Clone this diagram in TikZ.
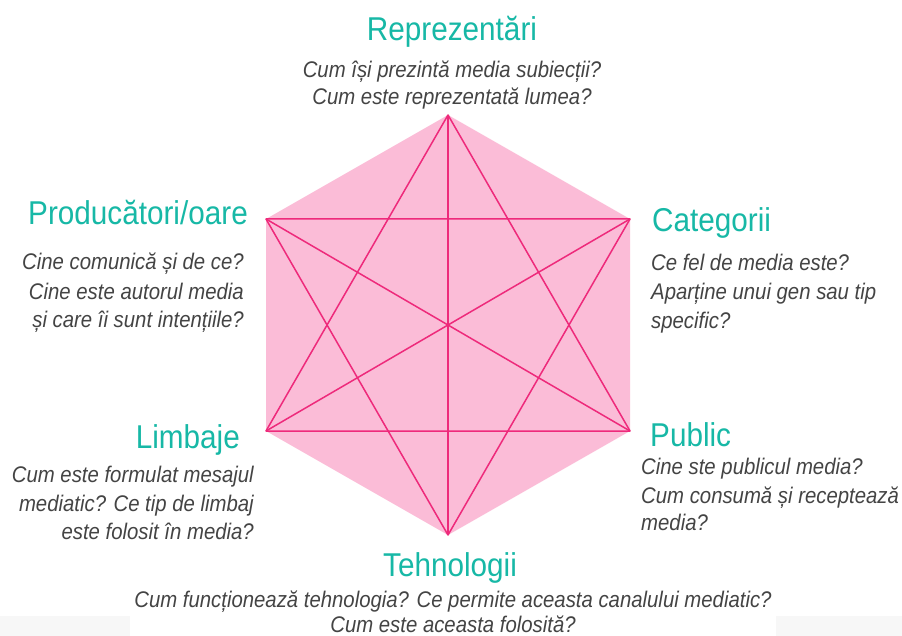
\documentclass[tikz,border=0pt]{standalone}
\usepackage{fontspec}
\setmainfont{Liberation Sans}[FakeStretch=0.9]
\definecolor{teal1}{HTML}{17B8A6}
\definecolor{txtgray}{HTML}{444444}
\definecolor{pinkfill}{HTML}{FBBCD7}
\definecolor{pinkline}{HTML}{EE2A7B}
\definecolor{bandgray}{HTML}{F7F7F7}
\tikzset{
  head/.style={text=teal1, font=\fontsize{33}{38}\selectfont, inner sep=0pt},
  qtext/.style={text=txtgray, font=\fontsize{22.6}{26}\selectfont\itshape, inner sep=0pt},
  star/.style={draw=pinkline, line width=1.5pt, line join=round}
}
\begin{document}
\begin{tikzpicture}[x=1pt,y=-1pt]
\useasboundingbox (0,0) rectangle (902,636);
\fill[white] (0,0) rectangle (902,636);
\fill[bandgray] (0,616) rectangle (130,636);
\fill[bandgray] (776,616) rectangle (902,636);
% hexagon
\coordinate (T) at (448,115);
\coordinate (UR) at (630,219);
\coordinate (LR) at (630,431);
\coordinate (B) at (448,535);
\coordinate (LL) at (266,431);
\coordinate (UL) at (266,219);
\fill[pinkfill] (T) -- (UR) -- (LR) -- (B) -- (LL) -- (UL) -- cycle;
\draw[star] (T) -- (LL) -- (LR) -- cycle;
\draw[star] (B) -- (UL) -- (UR) -- cycle;
\draw[star] (T) -- (B);
\draw[star] (UL) -- (LR);
\draw[star] (UR) -- (LL);
% top
\node[head, anchor=base] (h1) at (452,41) {Reprezentări};
\node[qtext, anchor=base] (t1a) at (452,78) {Cum își prezintă media subiecții?};
\node[qtext, anchor=base] (t1b) at (452,105) {Cum este reprezentată lumea?};
% upper left
\node[head, anchor=base east] (h2) at (248,225) {Producători/oare};
\node[qtext, anchor=base east] (t2a) at (244,270) {Cine comunică și de ce?};
\node[qtext, anchor=base east] (t2b) at (244,299) {Cine este autorul media};
\node[qtext, anchor=base east] (t2c) at (244,327) {și care îi sunt intențiile?};
% upper right
\node[head, anchor=base west] (h3) at (652,232) {Categorii};
\node[qtext, anchor=base west] (t3a) at (651,271) {Ce fel de media este?};
\node[qtext, anchor=base west] (t3b) at (651,300) {Aparține unui gen sau tip};
\node[qtext, anchor=base west] (t3c) at (651,328) {specific?};
% lower left
\node[head, anchor=base east] (h4) at (240,448) {Limbaje};
\node[qtext, anchor=base east] (t4a) at (254,482) {Cum este formulat mesajul};
\node[qtext, anchor=base east] (t4b) at (254,511) {mediatic? Ce tip de limbaj};
\node[qtext, anchor=base east] (t4c) at (254,539) {este folosit în media?};
% lower right
\node[head, anchor=base west] (h5) at (650,446) {Public};
\node[qtext, anchor=base west] (t5a) at (641,474) {Cine ste publicul media?};
\node[qtext, anchor=base west] (t5b) at (641,503) {Cum consumă și receptează};
\node[qtext, anchor=base west] (t5c) at (641,530) {media?};
% bottom
\node[head, anchor=base] (h6) at (450,576) {Tehnologii};
\node[qtext, anchor=base] (t6a) at (453,607) {Cum funcționează tehnologia? Ce permite aceasta canalului mediatic?};
\node[qtext, anchor=base] (t6b) at (453,632) {Cum este aceasta folosită?};
\end{tikzpicture}
\end{document}
